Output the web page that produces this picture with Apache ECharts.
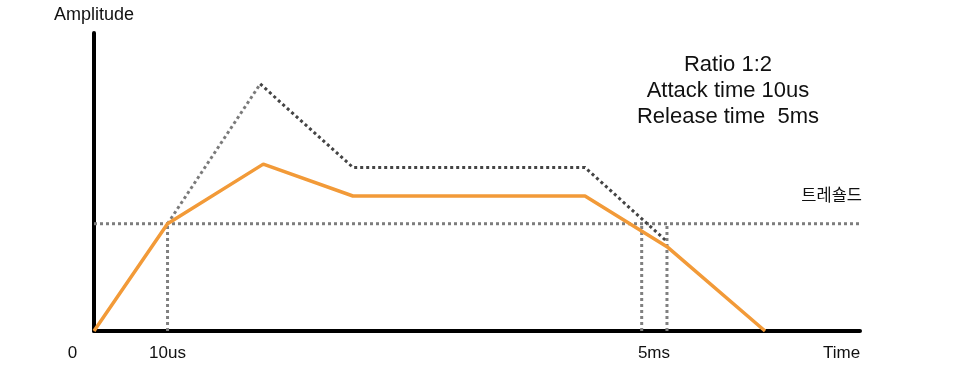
<!DOCTYPE html>
<html>
<head>
<meta charset="utf-8">
<script src="https://cdn.jsdelivr.net/npm/echarts@6/dist/echarts.min.js"></script>
<style>html,body{margin:0;padding:0;background:#fff}#c{width:960px;height:366px}</style>
</head>
<body>
<div id="c"></div>
<script>
// Data (x: time in plot units 0..100, y: amplitude 0..100)
const compressed = [[0,0],[9.6,36],[22.1,56],[33.8,45.3],[64.1,45.3],[74.8,28.3],[87.6,0]];
const envelopeRise = [[9.6,36],[21.7,82.9]];
const envelopeRest = [[21.7,82.9],[33.8,54.9],[64.1,54.9],[74.8,30]];
const threshold = 36;
const markerTimes = [9.6, 71.5, 74.8];
const tickValues = [9.6, 73.1, 97.6];
const tickLabels = ['10us', '5ms', 'Time'];
const infoLines = ['Ratio 1:2', 'Attack time 10us', 'Release time  5ms'];
const thresholdLabel = '트레숄드';

const FONT = '"Liberation Sans", Arial, Helvetica, sans-serif';
const chart = echarts.init(document.getElementById('c'), null, {renderer: 'canvas'});
const dotted = (color) => ({color: color, width: 3, type: [3, 3]});

const series = [];
series.push({type: 'line', data: [[0, threshold], [100, threshold]], symbol: 'none', silent: true,
  lineStyle: dotted('#7d7d7d'), z: 2});
markerTimes.forEach(t => series.push({type: 'line', data: [[t, 0], [t, threshold]], symbol: 'none',
  silent: true, lineStyle: dotted('#808080'), z: 2}));
series.push({type: 'line', data: envelopeRise, symbol: 'none', lineStyle: dotted('#7a7a7a'), z: 3});
series.push({type: 'line', data: envelopeRest, symbol: 'none', lineStyle: dotted('#444444'), z: 3});
series.push({type: 'line', data: compressed, symbol: 'none', lineStyle: {color: '#F29A38', width: 3.5}, z: 4});

chart.setOption({
  animation: false,
  grid: {left: 94, right: 100, top: 33, bottom: 35, containLabel: false},
  xAxis: {
    type: 'value', min: 0, max: 100,
    axisLine: {show: true, lineStyle: {color: '#000', width: 4}},
    axisTick: {show: false}, splitLine: {show: false},
    axisLabel: {
      customValues: tickValues,
      formatter: (v) => { const i = tickValues.indexOf(v); return i >= 0 ? tickLabels[i] : ''; },
      color: '#111', fontSize: 17, fontFamily: FONT, margin: 14
    }
  },
  yAxis: {
    type: 'value', min: 0, max: 100,
    name: 'Amplitude', nameLocation: 'end', nameGap: 9,
    nameTextStyle: {color: '#111', fontSize: 18, fontFamily: FONT},
    axisLine: {show: true, lineStyle: {color: '#000', width: 4}},
    axisTick: {show: false}, splitLine: {show: false}, axisLabel: {show: false}
  },
  graphic: [
    {type: 'text', x: 72.5, y: 353, style: {text: '0', fill: '#111', font: '17px ' + FONT,
      textAlign: 'center', textVerticalAlign: 'middle'}},
    {type: 'text', x: 862, y: 195, style: {text: thresholdLabel, fill: '#111',
      font: '16.5px "Noto Sans CJK KR", sans-serif', textAlign: 'right', textVerticalAlign: 'middle'}},
    {type: 'text', x: 728, y: 52, style: {text: infoLines.join('\n'), fill: '#111',
      font: '22px ' + FONT, lineHeight: 26, textAlign: 'center', textVerticalAlign: 'top'}}
  ],
  series: series
});
</script>
</body>
</html>
